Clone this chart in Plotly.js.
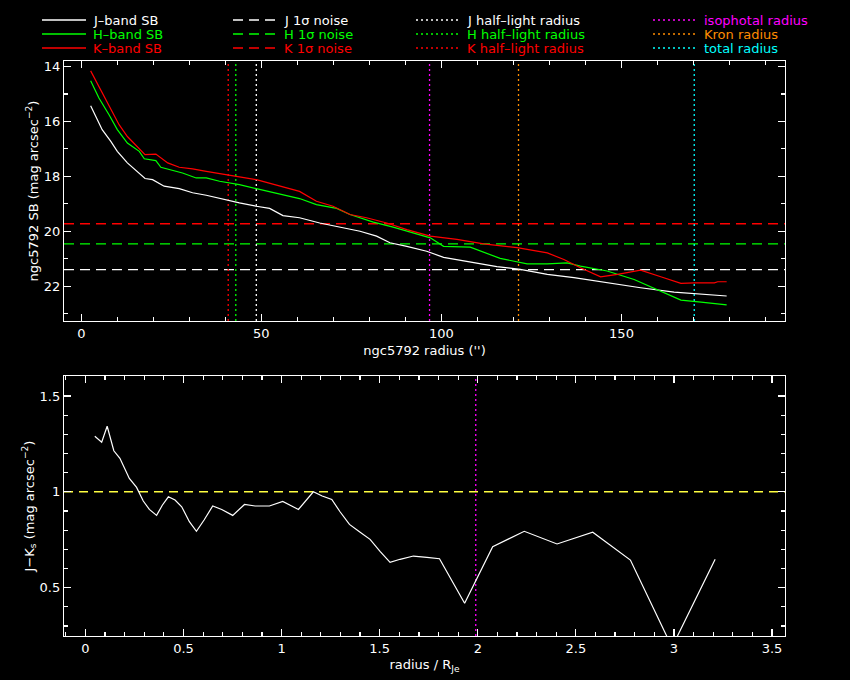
<!DOCTYPE html>
<html>
<head>
<meta charset="utf-8">
<script src="https://cdn.plot.ly/plotly-3.0.1.min.js"></script>
<style>
  body { margin: 0; background: #000; }
  #chart { width: 850px; height: 680px; }
</style>
</head>
<body>
<div id="chart"></div>
<script>
// surface brightness profiles (radius in arcsec, SB in mag arcsec^-2)
const J_RADIUS = [2.6, 5.8, 8.2, 10, 12.8, 15.6, 17.7, 19.8, 23, 27.2, 30.9, 34.7, 38.4, 43.9, 48.6, 52.3, 56, 60.6, 66.2, 71.8, 77.4, 82, 85.7, 90.4, 95.9, 100.6, 108.9, 115.4, 121.9, 129.4, 136.8, 146, 155.3, 164.6, 172.1, 179.2];
const J_SB = [15.43, 16.3, 16.73, 17.09, 17.51, 17.82, 18.08, 18.12, 18.36, 18.45, 18.6, 18.69, 18.81, 18.97, 19.09, 19.17, 19.43, 19.51, 19.7, 19.86, 20.0, 20.18, 20.42, 20.55, 20.73, 20.95, 21.15, 21.29, 21.39, 21.57, 21.69, 21.88, 22.06, 22.22, 22.3, 22.36];

const H_RADIUS = [2.6, 4.9, 7.7, 10, 12.8, 16.1, 17.5, 20.7, 22.1, 25.3, 28.1, 31.9, 34.7, 38.4, 43.9, 48.6, 56, 60.6, 65.3, 70.9, 74.6, 81.1, 86.6, 92.2, 96.9, 100.6, 108, 116.3, 123.8, 129.4, 134.9, 138.6, 146, 153.5, 160.9, 166.5, 172.1, 179.2];
const H_SB = [14.52, 15.15, 15.76, 16.3, 16.79, 17.09, 17.36, 17.43, 17.67, 17.79, 17.88, 18.06, 18.06, 18.18, 18.3, 18.45, 18.67, 18.81, 19.03, 19.17, 19.39, 19.67, 19.85, 20.06, 20.24, 20.55, 20.58, 20.99, 21.19, 21.19, 21.15, 21.27, 21.45, 21.76, 22.18, 22.51, 22.58, 22.68];

const K_RADIUS = [2.6, 4.9, 7.7, 10.5, 12.8, 15.6, 17.7, 20.7, 21.6, 24, 27.2, 30.9, 34.7, 38.4, 43.9, 48.6, 56, 60.6, 65.3, 69.9, 74.6, 79.2, 84.8, 90.4, 96.9, 104.3, 111.7, 121, 129.4, 134, 138.6, 144.2, 148.9, 155.3, 160.9, 166.5, 170.2, 175.8, 176.7, 179.2];
const K_SB = [14.16, 14.73, 15.39, 16.12, 16.55, 16.91, 17.21, 17.19, 17.27, 17.51, 17.67, 17.73, 17.82, 17.91, 18.02, 18.12, 18.4, 18.55, 18.91, 19.09, 19.39, 19.51, 19.7, 19.94, 20.18, 20.3, 20.46, 20.6, 20.79, 21.03, 21.33, 21.66, 21.57, 21.42, 21.66, 21.9, 21.88, 21.88, 21.84, 21.84];

// 1 sigma noise levels and characteristic radii
const NOISE = { J: 21.4, H: 20.46, K: 19.73 };
const HALF_LIGHT = { J: 48.6, H: 42.9, K: 40.8 };
const ISO_RADIUS = 96.7;
const KRON_RADIUS = 121.4;
const TOTAL_RADIUS = 170.2;

// J-Ks colour profile vs radius / R_Je
const COLOR_RADIUS = [0.048, 0.083, 0.111, 0.145, 0.176, 0.224, 0.261, 0.295, 0.326, 0.363, 0.392, 0.423, 0.457, 0.491, 0.530, 0.566, 0.605, 0.649, 0.695, 0.751, 0.811, 0.865, 0.938, 1.006, 1.086, 1.162, 1.207, 1.256, 1.298, 1.346, 1.397, 1.451, 1.503, 1.553, 1.604, 1.672, 1.741, 1.805, 1.933, 2.076, 2.237, 2.404, 2.586, 2.778, 2.99, 3.21];
const COLOR_JK = [1.29, 1.259, 1.342, 1.214, 1.175, 1.07, 1.023, 0.952, 0.908, 0.877, 0.93, 0.974, 0.957, 0.922, 0.844, 0.794, 0.853, 0.926, 0.908, 0.877, 0.934, 0.926, 0.926, 0.95, 0.908, 1.0, 0.978, 0.96, 0.896, 0.83, 0.792, 0.752, 0.688, 0.632, 0.648, 0.665, 0.658, 0.651, 0.419, 0.714, 0.794, 0.728, 0.789, 0.644, 0.19, 0.648];
const COLOR_REF = 1.0;

const R_RANGE = [-4.8, 195.4];
const SB_RANGE = [23.27, 13.8];
const RN_RANGE = [-0.109, 3.566];
const JK_RANGE = [0.248, 1.604];

const WHITE = '#ffffff', GREEN = '#00ff00', RED = '#ff0000';
const MAGENTA = '#ff00ff', ORANGE = '#ff8c00', CYAN = '#00ffff', YELLOW = '#ffff40';
const DASH = '10px,6px';
const DOT = '2px,3px';
const FONT = 'DejaVu Sans, sans-serif';

function vline(x, yr, color, xa, ya) {
    return { x: [x, x], y: yr, xaxis: xa, yaxis: ya, mode: 'lines',
        line: { color: color, width: 1.3, dash: DOT }, hoverinfo: 'skip', showlegend: false };
}
function hline(y, xr, color, dash, xa, ya) {
    return { x: xr, y: [y, y], xaxis: xa, yaxis: ya, mode: 'lines',
        line: { color: color, width: 1.4, dash: dash }, hoverinfo: 'skip', showlegend: false };
}
function profile(x, y, color) {
    return { x: x, y: y, xaxis: 'x', yaxis: 'y', mode: 'lines',
        line: { color: color, width: 1.2, shape: 'linear' }, showlegend: false };
}

const traces = [
    hline(NOISE.J, R_RANGE, WHITE, DASH, 'x', 'y'),
    hline(NOISE.H, R_RANGE, GREEN, DASH, 'x', 'y'),
    hline(NOISE.K, R_RANGE, RED, DASH, 'x', 'y'),
    vline(HALF_LIGHT.K, SB_RANGE, RED, 'x', 'y'),
    vline(HALF_LIGHT.H, SB_RANGE, GREEN, 'x', 'y'),
    vline(HALF_LIGHT.J, SB_RANGE, WHITE, 'x', 'y'),
    vline(ISO_RADIUS, SB_RANGE, MAGENTA, 'x', 'y'),
    vline(KRON_RADIUS, SB_RANGE, ORANGE, 'x', 'y'),
    vline(TOTAL_RADIUS, SB_RANGE, CYAN, 'x', 'y'),
    profile(J_RADIUS, J_SB, WHITE),
    profile(H_RADIUS, H_SB, GREEN),
    profile(K_RADIUS, K_SB, RED),
    hline(COLOR_REF, RN_RANGE, YELLOW, '9px,6px', 'x2', 'y2'),
    vline(ISO_RADIUS / HALF_LIGHT.J, JK_RANGE, MAGENTA, 'x2', 'y2'),
    { x: COLOR_RADIUS, y: COLOR_JK, xaxis: 'x2', yaxis: 'y2', mode: 'lines',
      line: { color: WHITE, width: 1.2 }, showlegend: false }
];

// key drawn in the top margin, 3 rows x 4 columns
const KEY_LABELS = [
    ['J\u2013band SB', 'H\u2013band SB', 'K\u2013band SB'],
    ['J 1\u03c3 noise', 'H 1\u03c3 noise', 'K 1\u03c3 noise'],
    ['J half\u2013light radius', 'H half\u2013light radius', 'K half\u2013light radius'],
    ['isophotal radius', 'Kron radius', 'total radius']
];
const KEY_COLORS = [
    [WHITE, GREEN, RED], [WHITE, GREEN, RED], [WHITE, GREEN, RED], [MAGENTA, ORANGE, CYAN]
];
const KEY_DASH = ['solid', DASH, DOT, DOT];

const W = 850, H = 680;
const M = { l: 64, r: 65, t: 61, b: 44 };
const px2x = p => (p - M.l) / (W - M.l - M.r);
const px2y = p => (H - M.b - p) / (H - M.t - M.b);

const keyCols = [42, 233, 416, 653];
const keyRows = [20, 34, 48];
const shapes = [];
const annotations = [];
keyCols.forEach((cx, c) => {
    keyRows.forEach((ry, r) => {
        shapes.push({ type: 'line', xref: 'paper', yref: 'paper',
            x0: px2x(cx), x1: px2x(cx + 44), y0: px2y(ry), y1: px2y(ry),
            line: { color: KEY_COLORS[c][r], width: 1.4, dash: KEY_DASH[c] } });
        annotations.push({ xref: 'paper', yref: 'paper', x: px2x(cx + 49), y: px2y(ry),
            xanchor: 'left', yanchor: 'middle', showarrow: false, text: KEY_LABELS[c][r],
            font: { family: FONT, size: 13, color: KEY_COLORS[c][r] } });
    });
});

const axisBase = {
    showgrid: false, zeroline: false, showline: true, linecolor: WHITE, linewidth: 1.2,
    mirror: 'ticks', ticks: 'inside', ticklen: 7, tickwidth: 1.2, tickcolor: WHITE,
    tickfont: { family: FONT, size: 13, color: WHITE },
    minor: { ticks: 'inside', ticklen: 4, tickwidth: 1.2, tickcolor: WHITE }
};
const titleFont = { family: FONT, size: 13, color: WHITE };

const layout = {
    width: W, height: H, margin: M,
    paper_bgcolor: '#000', plot_bgcolor: '#000',
    showlegend: false,
    xaxis: Object.assign({}, axisBase, {
        domain: [0, 1], anchor: 'y', range: R_RANGE, tick0: 0, dtick: 50,
        minor: Object.assign({}, axisBase.minor, { dtick: 10 }),
        title: { text: "ngc5792 radius ('')", font: titleFont, standoff: 6 }
    }),
    yaxis: Object.assign({}, axisBase, {
        domain: [px2y(321), 1], anchor: 'x', range: SB_RANGE, tick0: 0, dtick: 2,
        minor: Object.assign({}, axisBase.minor, { dtick: 1 }),
        title: { text: 'ngc5792 SB (mag arcsec<sup>\u22122</sup>)', font: titleFont, standoff: 2 }
    }),
    xaxis2: Object.assign({}, axisBase, {
        domain: [0, 1], anchor: 'y2', range: RN_RANGE, tick0: 0, dtick: 0.5,
        minor: Object.assign({}, axisBase.minor, { dtick: 0.1 }),
        title: { text: 'radius / R<sub>Je</sub>', font: titleFont, standoff: 5 }
    }),
    yaxis2: Object.assign({}, axisBase, {
        domain: [0, px2y(376)], anchor: 'x2', range: JK_RANGE, tick0: 0, dtick: 0.5,
        minor: Object.assign({}, axisBase.minor, { dtick: 0.1 }),
        title: { text: 'J\u2212K<sub>s</sub> (mag arcsec<sup>\u22122</sup>)', font: titleFont, standoff: 2 }
    }),
    shapes: shapes,
    annotations: annotations
};

Plotly.newPlot('chart', traces, layout, { staticPlot: true, displayModeBar: false });
</script>
</body>
</html>
